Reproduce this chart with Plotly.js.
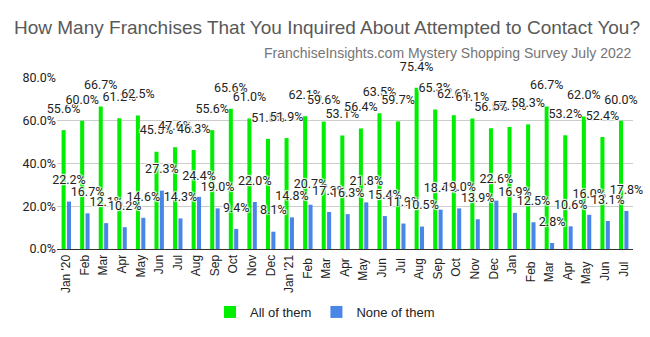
<!DOCTYPE html>
<html>
<head>
<meta charset="utf-8">
<script src="https://cdn.plot.ly/plotly-3.0.1.min.js"></script>
<style>html,body{margin:0;padding:0;background:#fff;}#chart{width:650px;height:337px;}</style>
</head>
<body>
<div id="chart"></div>
<script>
const months = ["Jan '20","Feb","Mar","Apr","May","Jun","Jul","Aug","Sep","Oct","Nov","Dec",
  "Jan '21","Feb ","Mar ","Apr ","May ","Jun ","Jul ","Aug ","Sep ","Oct ","Nov ","Dec ",
  "Jan","Feb  ","Mar  ","Apr  ","May  ","Jun  ","Jul  "];
const allOfThem = [55.6,60.0,66.7,61.2,62.5,45.5,47.6,46.3,55.6,65.6,61.0,51.5,
  51.9,62.1,59.6,53.1,56.4,63.5,59.7,75.4,65.3,62.6,61.1,56.5,
  57.1,58.3,66.7,53.2,62.0,52.4,60.0];
const noneOfThem = [22.2,16.7,12.1,10.2,14.6,27.3,14.3,24.4,19.0,9.4,22.0,8.1,
  14.8,20.7,17.3,16.3,21.8,15.4,11.9,10.5,18.4,19.0,13.9,22.6,
  16.9,12.5,2.8,10.6,16.0,13.1,17.8];
const seriesNames = ["All of them","None of them"];

const font = "Liberation Sans, Arial, sans-serif";
const lblFont = {family: "Roboto, Liberation Sans, sans-serif", size: 12.5, color: "#222",
  shadow: "1px 1px 1px #fff, -1px -1px 1px #fff, 1px -1px 1px #fff, -1px 1px 1px #fff"};
const tmpl = "%{y:.1f}%<br><span style='font-size:6px'>\u00a0</span>";

const traces = [
  {type: "bar", x: months, y: allOfThem, name: seriesNames[0], marker: {color: "#00ee00"},
   texttemplate: tmpl, textposition: "outside", textfont: lblFont, cliponaxis: false,
   constraintext: "none", hoverinfo: "none"},
  {type: "bar", x: months, y: noneOfThem, name: seriesNames[1], marker: {color: "#4a86e8"},
   texttemplate: tmpl, textposition: "outside", textfont: lblFont, cliponaxis: false,
   constraintext: "none", hoverinfo: "none"}
];

const layout = {
  width: 650, height: 337,
  margin: {l: 57, r: 17, t: 78, b: 88},
  paper_bgcolor: "#fff", plot_bgcolor: "#fff",
  font: {family: font, color: "#222"},
  barmode: "group", bargap: 0.42, bargroupgap: 0.25,
  title: {text: "How Many Franchises That You Inquired About Attempted to Contact You?",
    x: 14/650, xanchor: "left", xref: "container", y: 1 - 27/337, yanchor: "middle", yref: "container",
    font: {family: font, size: 19, color: "#595959"}},
  annotations: [{text: "FranchiseInsights.com Mystery Shopping Survey July 2022",
    xref: "paper", yref: "paper", x: 1, xanchor: "right", y: (249 - 53) / 171, yanchor: "middle",
    showarrow: false, font: {family: font, size: 14, color: "#757575"}}],
  xaxis: {type: "category", tickangle: -90, tickfont: {family: font, size: 12, color: "#222"},
    showgrid: false, showline: true, linecolor: "#333", linewidth: 1, ticks: "", automargin: false},
  yaxis: {range: [0, 80], dtick: 20, tickformat: ".1f", ticksuffix: "%",
    tickfont: {family: "Roboto, Liberation Sans, sans-serif", size: 12.5, color: "#222"},
    gridcolor: "#cccccc", zeroline: false, showline: false, automargin: false},
  legend: {orientation: "h", xref: "container", x: 0.5, xanchor: "center",
    yref: "container", y: 1 - 312/337, yanchor: "middle",
    font: {family: font, size: 13, color: "#222"}, itemwidth: 30},
  showlegend: true
};

Plotly.newPlot("chart", traces, layout, {displayModeBar: false, staticPlot: true});
</script>
</body>
</html>
